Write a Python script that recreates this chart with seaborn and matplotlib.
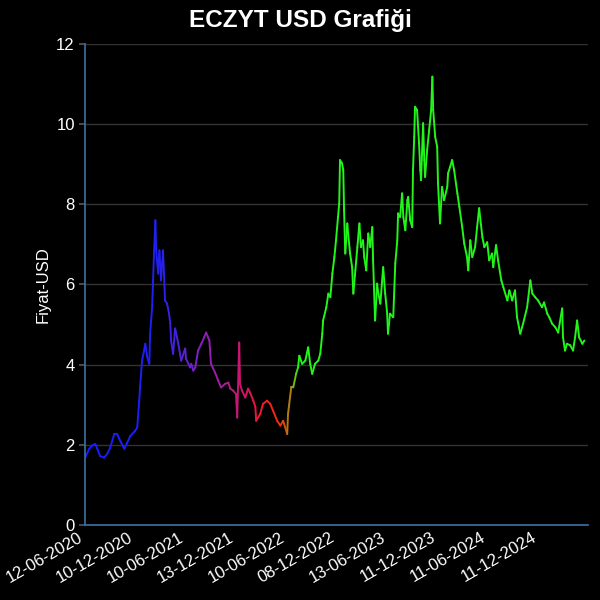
import numpy as np
import pandas as pd
import seaborn as sns
import matplotlib
matplotlib.use("Agg")
import matplotlib.pyplot as plt
from matplotlib.colors import LinearSegmentedColormap, to_hex

# trading-day index and USD price
day = [0, 10, 17, 25, 30, 37, 47, 55, 62, 72, 79, 87, 97, 104, 112, 124, 129, 134, 136, 141,
       146, 149, 154, 159, 161, 166, 171, 174, 176, 181, 184, 188, 193, 198, 203, 208, 211, 213, 218, 223,
       231, 238, 248, 250, 260, 263, 268, 273, 280, 288, 295, 300, 308, 312, 322, 330, 337, 347, 355, 360,
       367, 374, 377, 382, 384, 389, 397, 404, 409, 417, 422, 424, 434, 441, 451, 459, 466, 476, 484, 491,
       501, 503, 511, 516, 523, 528, 531, 538, 546, 553, 558, 563, 570, 578, 583, 588, 590, 598, 603, 608,
       613, 618, 622, 627, 630, 632, 637, 640, 642, 645, 650, 652, 657, 662, 665, 670, 675, 680, 684, 689,
       692, 697, 702, 707, 712, 714, 719, 724, 727, 732, 739, 744, 749, 751, 756, 764, 769, 774, 776, 781,
       786, 789, 794, 799, 801, 806, 811, 813, 816, 818, 823, 828, 831, 833, 838, 841, 843, 848, 853, 858,
       861, 863, 868, 873, 875, 880, 885, 890, 898, 900, 905, 910, 915, 923, 928, 935, 940, 947, 950, 955,
       960, 967, 972, 977, 985, 990, 997, 1002, 1009, 1012, 1019, 1024, 1032, 1037, 1047, 1052, 1059, 1066, 1071, 1079,
       1086, 1096, 1104, 1109, 1116, 1123, 1133, 1138, 1146, 1151, 1158, 1166, 1173, 1183, 1185, 1190, 1195, 1203, 1210, 1215,
       1220, 1225, 1233, 1238]

price = [1.68, 1.9, 1.98, 2.02, 1.9, 1.72, 1.68, 1.78, 1.93, 2.27, 2.27, 2.1, 1.9, 2.05, 2.22, 2.35, 2.43, 3.1, 3.43, 4.1,
         4.35, 4.52, 4.18, 4.02, 4.77, 5.43, 6.85, 7.6, 6.85, 6.27, 6.85, 6.1, 6.85, 5.6, 5.52, 5.27, 5.02, 4.6, 4.27, 4.9,
         4.52, 4.1, 4.4, 4.15, 3.93, 4.02, 3.85, 3.93, 4.35, 4.52, 4.68, 4.8, 4.6, 4.02, 3.8, 3.6, 3.43, 3.52, 3.55, 3.4,
         3.35, 3.27, 2.68, 4.55, 3.52, 3.35, 3.18, 3.4, 3.3, 3.1, 2.95, 2.6, 2.77, 3.02, 3.1, 3.02, 2.85, 2.6, 2.48, 2.6,
         2.27, 2.77, 3.43, 3.43, 3.77, 3.93, 4.22, 4.02, 4.1, 4.43, 4.02, 3.77, 4.02, 4.1, 4.27, 4.77, 5.1, 5.43, 5.77, 5.68,
         6.27, 6.68, 7.1, 7.68, 8.02, 9.1, 9.02, 8.85, 7.85, 6.77, 7.52, 7.27, 6.77, 6.43, 5.77, 6.35, 6.93, 7.52, 6.93, 7.1,
         6.68, 6.35, 7.27, 6.93, 7.43, 6.6, 5.1, 6.02, 5.77, 5.52, 6.43, 5.77, 5.27, 4.77, 5.27, 5.18, 6.52, 7.1, 7.77, 7.68,
         8.27, 7.68, 7.35, 8.1, 8.18, 7.6, 7.43, 8.85, 9.68, 10.43, 10.35, 9.52, 8.85, 8.6, 10.02, 9.1, 8.68, 9.35, 9.85, 10.35,
         11.18, 10.35, 9.68, 9.43, 8.52, 7.52, 8.43, 8.1, 8.43, 8.77, 8.93, 9.1, 8.85, 8.27, 7.93, 7.43, 7.02, 6.68, 6.35, 7.1,
         6.68, 6.93, 7.43, 7.9, 7.18, 6.93, 7.05, 6.6, 6.77, 6.43, 6.98, 6.6, 6.1, 5.93, 5.6, 5.85, 5.6, 5.85, 5.18, 4.77,
         5.02, 5.43, 6.1, 5.77, 5.68, 5.6, 5.43, 5.55, 5.27, 5.18, 5.02, 4.93, 4.8, 5.4, 4.68, 4.35, 4.52, 4.48, 4.35, 4.68,
         5.1, 4.68, 4.52, 4.6]

tick_days = [0, 125, 250, 375, 500, 625, 750, 875, 1000, 1125]
tick_labels = ["12-06-2020", "10-12-2020", "10-06-2021", "13-12-2021", "10-06-2022",
               "08-12-2022", "13-06-2023", "11-12-2023", "11-06-2024", "11-12-2024"]

# colour ramp along time: blue -> purple -> crimson -> red -> orange -> lime
ramp_days = [0, 180, 270, 330, 390, 450, 485, 500, 515, 530]
ramp_cols = ["#1a1aff", "#2020f0", "#7a20c8", "#a01ea0", "#d0146a", "#ff1a1a",
             "#f03010", "#c07010", "#80b010", "#22f51a"]

cmap = LinearSegmentedColormap.from_list(
    "eczyt", list(zip(np.array(ramp_days) / ramp_days[-1], ramp_cols)))

sns.set_theme(style="dark", rc={
    "figure.facecolor": "black", "axes.facecolor": "black",
    "axes.edgecolor": "#3a6e9a", "text.color": "white",
    "axes.labelcolor": "white", "xtick.color": "white", "ytick.color": "white",
    "axes.grid": True, "grid.color": "#333333",
})
plt.rcParams["font.family"] = ["Liberation Sans", "DejaVu Sans"]

# one two-point segment per pair so each piece gets its own colour
rows = []
for i in range(len(day) - 1):
    rows.append((i, day[i], price[i]))
    rows.append((i, day[i + 1], price[i + 1]))
seg = pd.DataFrame(rows, columns=["seg", "day", "price"])
pal = {i: to_hex(cmap(min(day[i], ramp_days[-1]) / ramp_days[-1])) for i in range(len(day) - 1)}

fig, ax = plt.subplots(figsize=(6, 6), dpi=100)
fig.subplots_adjust(left=0.142, right=0.98, bottom=0.125, top=0.927)

sns.lineplot(data=seg, x="day", y="price", hue="seg", palette=pal, estimator=None,
             sort=False, legend=False, lw=1.4, ax=ax)

ax.set_xlim(0, 1247)
ax.set_ylim(0, 12)
ax.set_yticks(range(0, 13, 2))
ax.set_xticks(tick_days)
ax.set_xticklabels(tick_labels, rotation=30, ha="right", fontsize=12)
ax.tick_params(axis="y", labelsize=12, length=4, color="#555555", left=True)
ax.tick_params(axis="x", length=0)
ax.grid(axis="x", visible=False)
ax.grid(axis="y", color="#333333", lw=1)
for s in ["top", "right"]:
    ax.spines[s].set_visible(False)
ax.set_xlabel("")
ax.set_ylabel("Fiyat-USD", fontsize=12)
fig.suptitle("ECZYT USD Grafiği", fontsize=17.5, fontweight="bold", color="white", x=0.5, y=0.985)

fig.savefig("out.png", dpi=100, facecolor="black")
